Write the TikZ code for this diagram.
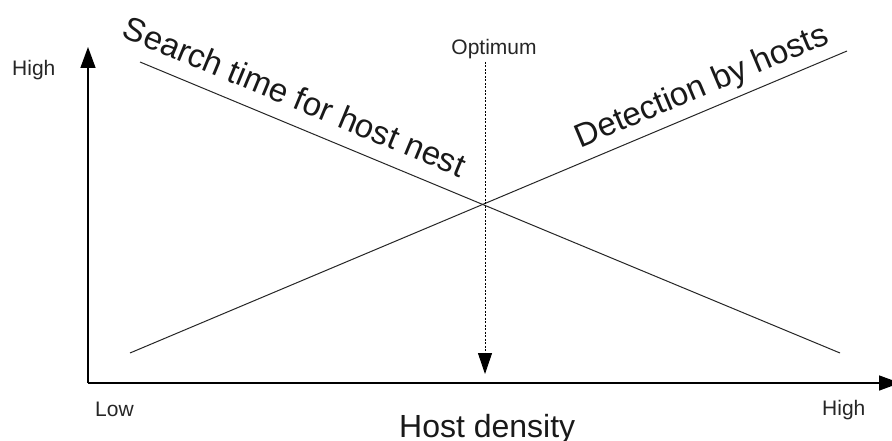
\documentclass[tikz,border=0pt]{standalone}
\usepackage{fontspec}
\setmainfont{Liberation Sans}
\usetikzlibrary{arrows.meta,calc}
\begin{document}
\begin{tikzpicture}[x=1pt,y=-1pt,
  small/.style={font=\fontsize{21}{25}\selectfont, inner sep=0pt, text=black!85},
  big/.style={font=\fontsize{32}{38}\selectfont, inner sep=0pt, text=black!90},
  slopedtext/.style={font=\fontsize{33}{38}\selectfont, inner sep=0pt, text=black!90, anchor=base},
  axis/.style={line width=1.5pt, -{Triangle[length=21pt,width=15pt]}},
  curve/.style={line width=1pt, black!85},
  optarrow/.style={line width=0.9pt, dash pattern=on 2pt off 1.5pt, -{Triangle[length=21pt,width=14pt]}}]
\useasboundingbox (0,0) rectangle (892,441);
\clip (0,0) rectangle (892,441);
\fill[white] (0,0) rectangle (892,441);
% axes
\coordinate (O) at (88,383);
\coordinate (ytop) at (88,47);
\coordinate (xend) at (900,383);
\draw[axis] (O) -- (ytop);
\draw[axis] (O) -- (xend);
% lines
\coordinate (s1) at (140,62);
\coordinate (s2) at (840,353);
\coordinate (d1) at (130,353);
\coordinate (d2) at (847,51);
\draw[curve] (s1) -- (s2);
\draw[curve] (d1) -- (d2);
% optimum
\coordinate (o1) at (485,62);
\coordinate (o2) at (485,374);
\draw[optarrow] (o1) -- (o2);
\node[small, anchor=base] (opt) at (494,55) {Optimum};
% labels
\node[small, anchor=base west] (yhigh) at (12,76) {High};
\node[small, anchor=base west] (xlow) at (95,416) {Low};
\node[small, anchor=base west] (xhigh) at (822,415) {High};
\node[big, anchor=base west] (xlab) at (399,437) {Host density};
% sloped labels
\coordinate (ts) at ($(s1)!0.206!(s2)$);
\coordinate (td) at ($(d1)!0.81!(d2)$);
\node[slopedtext, rotate=-22.57] (search) at ($(ts)!16pt!90:(s2)$) {Search time for host nest};
\node[slopedtext, rotate=22.84] (detect) at ($(td)!14pt!90:(d2)$) {Detection by hosts};
\end{tikzpicture}
\end{document}
